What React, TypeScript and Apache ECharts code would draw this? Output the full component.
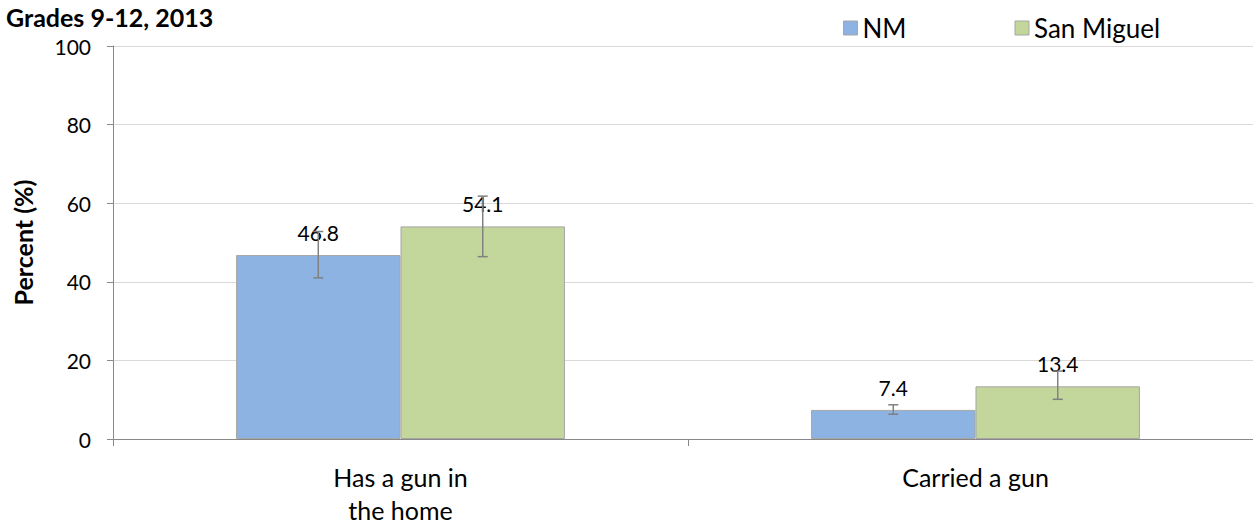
import React, { useEffect, useRef } from "react";
import * as echarts from "echarts";

const categories = ["Has a gun in\nthe home", "Carried a gun"];
const seriesNames = ["NM", "San Miguel"];
const nmValues = [46.8, 7.4];
const sanMiguelValues = [54.1, 13.4];
const nmLow = [41.0, 6.3];
const nmHigh = [52.8, 8.7];
const smLow = [46.4, 10.1];
const smHigh = [61.8, 17.3];
const yTicks = [0, 20, 40, 60, 80, 100];

const FONT = "Lato, 'Open Sans', sans-serif";
const colors = ["#8db3e2", "#c3d69b"];
const BAR_FRAC = 0.286;

export default function App() {
  const ref = useRef<HTMLDivElement>(null);
  useEffect(() => {
    if (!ref.current) return;
    const chart = echarts.init(ref.current, undefined, { renderer: "svg" });
    const errData = (lows: number[], highs: number[]) =>
      categories.map((_, i) => [i, lows[i], highs[i]]);
    const makeErr = (name: string, idx: number, lows: number[], highs: number[]) => ({
      type: "custom",
      name: name + " err",
      z: 5,
      silent: true,
      data: errData(lows, highs),
      renderItem: (params: any, api: any) => {
        const x = api.value(0);
        const lo = api.coord([x, api.value(1)]);
        const hi = api.coord([x, api.value(2)]);
        const band = api.size([1, 0])[0];
        const bw = band * BAR_FRAC;
        const cx = lo[0] + (idx - 0.5) * bw;
        const cap = 5;
        const style = { stroke: "#808080", lineWidth: 1.5 };
        return {
          type: "group",
          children: [
            { type: "line", shape: { x1: cx, y1: lo[1], x2: cx, y2: hi[1] }, style },
            { type: "line", shape: { x1: cx - cap, y1: lo[1], x2: cx + cap, y2: lo[1] }, style },
            { type: "line", shape: { x1: cx - cap, y1: hi[1], x2: cx + cap, y2: hi[1] }, style },
          ],
        };
      },
    });
    const barSeries = (name: string, data: number[], color: string) => ({
      type: "bar",
      name,
      data,
      barWidth: BAR_FRAC * 100 + "%",
      barGap: "0%",
      itemStyle: { color, borderColor: "#a6a6a6", borderWidth: 1 },
      label: {
        show: true,
        position: "top",
        distance: 12,
        color: "#000",
        fontFamily: FONT,
        fontSize: 21,
        formatter: (p: any) => p.value.toFixed(1),
      },
      z: 2,
    });
    chart.setOption({
      animation: false,
      textStyle: { fontFamily: FONT },
      title: {
        text: "Grades 9-12, 2013",
        left: 6,
        top: 4,
        padding: 0,
        textStyle: { fontFamily: FONT, fontSize: 25, fontWeight: "bold", color: "#000" },
      },
      legend: {
        data: seriesNames,
        left: 838,
        top: 10,
        itemWidth: 14,
        itemHeight: 14,
        itemGap: 108,
        icon: "rect",
        textStyle: { fontFamily: FONT, fontSize: 26, color: "#000" },
        itemStyle: { borderColor: "#a6a6a6", borderWidth: 1 },
      },
      grid: {
        left: 113,
        width: 1150,
        top: 46,
        height: 393,
        containLabel: false,
        outerBoundsMode: "none",
      },
      xAxis: {
        type: "category",
        data: categories,
        axisLine: { lineStyle: { color: "#898989", width: 1 } },
        axisTick: { show: true, length: 7, lineStyle: { color: "#898989" } },
        axisLabel: {
          fontFamily: FONT,
          fontSize: 25,
          color: "#000",
          lineHeight: 33,
          margin: 21,
        },
      },
      yAxis: {
        type: "value",
        min: 0,
        max: 100,
        interval: 20,
        name: "Percent (%)",
        nameLocation: "middle",
        nameGap: 78,
        nameTextStyle: { fontFamily: FONT, fontSize: 25, fontWeight: "bold", color: "#000" },
        axisLine: { show: true, lineStyle: { color: "#898989", width: 1 } },
        axisTick: { show: true, length: 6, inside: false, lineStyle: { color: "#898989" } },
        splitLine: { lineStyle: { color: "#d9d9d9", width: 1 } },
        axisLabel: {
          fontFamily: FONT,
          fontSize: 21,
          color: "#000",
          margin: 22,
          formatter: (v: number) => (yTicks.includes(v) ? String(v) : ""),
        },
      },
      series: [
        barSeries(seriesNames[0], nmValues, colors[0]),
        barSeries(seriesNames[1], sanMiguelValues, colors[1]),
        makeErr(seriesNames[0], 0, nmLow, nmHigh),
        makeErr(seriesNames[1], 1, smLow, smHigh),
      ],
    });
    return () => chart.dispose();
  }, []);
  return <div ref={ref} style={{ width: 1253, height: 523, position: "absolute", left: 0, top: 0 }} />;
}
